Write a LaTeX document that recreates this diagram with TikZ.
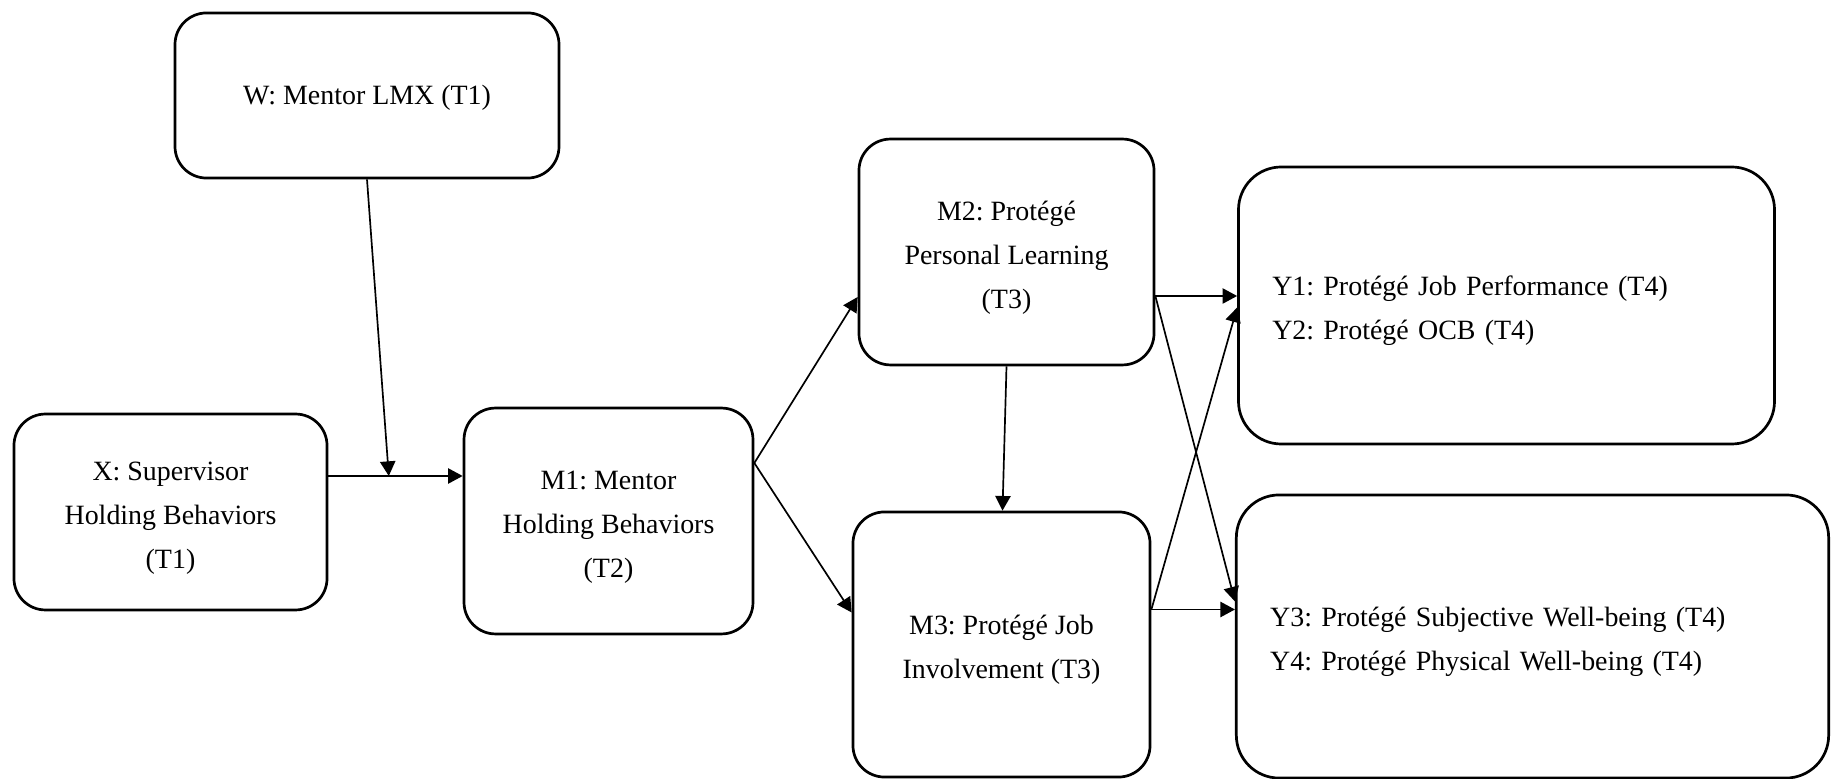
\documentclass[tikz,border=0pt]{standalone}
\usepackage{fontspec}
\setmainfont{Liberation Serif}
\frenchspacing
\usetikzlibrary{arrows.meta, positioning, calc}

\tikzset{
  varbox/.style={draw=black, line width=1.2pt, rounded corners=14pt,
    align=center, inner sep=0pt, font=\fontsize{12.4}{19.4}\selectfont},
  outbox/.style={varbox, rounded corners=19pt, align=left, inner xsep=15pt},
  effect/.style={line width=0.75pt, -{Triangle[length=6.5pt, width=6.8pt]}}
}

\begin{document}
\begin{tikzpicture}[x=0.444pt, y=-0.444pt]
  \useasboundingbox (0,0) rectangle (1831,779);

  % predictors and moderator
  \node[varbox, minimum width=170.5pt, minimum height=73.3pt] (w) at (367,95.5) {\strut W: Mentor LMX (T1)};
  \node[varbox, minimum width=139pt, minimum height=87pt] (x) at (170.5,512) {\strut X: Supervisor\\Holding Behaviors\\(T1)};
  \node[varbox, minimum width=128.3pt, minimum height=100.3pt] (m1) at (608.5,521) {\strut M1: Mentor\\Holding Behaviors\\(T2)};

  % mediators
  \node[varbox, minimum width=131pt, minimum height=100.3pt] (m2) at (1006.5,252) {\strut M2: Protégé\\Personal Learning\\(T3)};
  \node[varbox, minimum width=131.9pt, minimum height=117.7pt] (m3) at (1001.5,644.5) {\strut M3: Protégé Job\\Involvement (T3)};

  % outcomes
  \node[outbox, text width=208pt, minimum height=123pt] (y12) at (1506.5,305.5) {\strut Y1: Protégé Job Performance (T4)\\Y2: Protégé OCB (T4)};
  \node[outbox, text width=233pt, minimum height=125.7pt] (y34) at (1532.5,636.5) {\strut Y3: Protégé Subjective Well-being (T4)\\Y4: Protégé Physical Well-being (T4)};

  \coordinate (xout) at ($(x.east)+(0,-36)$);
  \coordinate (mod) at ($(xout)!0.45!(xout -| m1.west)$);
  \coordinate (m1out) at ($(m1.east)+(0,-58)$);
  \coordinate (m2out) at ($(m2.east)+(0,44)$);
  \coordinate (m3out) at ($(m3.east)+(0,-35)$);

  % paths
  \draw[effect] (xout) -- (xout -| m1.west);
  \draw[effect] (w.south) -- (mod);
  \draw[effect] (m1out) -- ($(m2.west)+(0,45)$);
  \draw[effect] (m1out) -- ($(m3.west)+(0,-32)$);
  \draw[effect] (m2.south) -- ($(m3.north)+(1,0)$);
  \draw[effect] (m2out) -- (m2out -| y12.west);
  \draw[effect] (m2out) -- ($(y34.west)+(0,-35)$);
  \draw[effect] (m3out) -- ($(y12.west)+(0,2)$);
  \draw[effect] (m3out) -- (m3out -| y34.west);
\end{tikzpicture}
\end{document}
